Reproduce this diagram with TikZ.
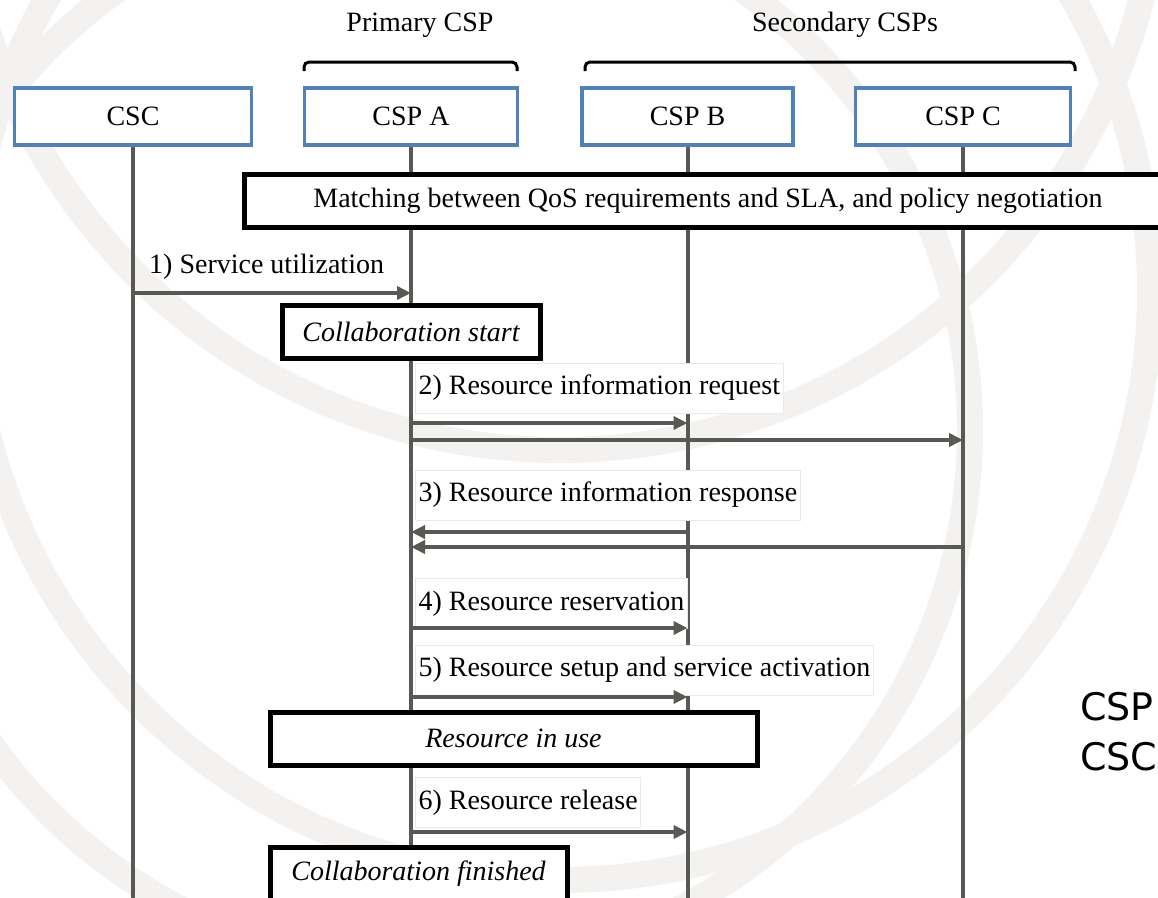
\documentclass[tikz,border=0pt]{standalone}
\usepackage{fontspec}
\setmainfont{Liberation Serif}
\newfontfamily\sidefont{DejaVu Sans}
\usetikzlibrary{arrows.meta}
\definecolor{boxblue}{RGB}{79,129,189}
\definecolor{lifegray}{RGB}{88,88,84}
\definecolor{wm}{RGB}{244,242,240}
\definecolor{lblborder}{RGB}{234,234,234}
\tikzset{
  actor/.style={draw=boxblue, line width=3.5pt, fill=white, minimum height=57pt, inner sep=0pt, font=\fontsize{28}{32}\selectfont},
  phase/.style={draw=black, line width=5pt, fill=white, minimum height=53pt, inner sep=0pt, font=\fontsize{28}{32}\selectfont\itshape},
  lifeline/.style={draw=lifegray, line width=4pt},
  msg/.style={draw=lifegray, line width=4pt, -{Triangle[length=14pt,width=13pt]}},
  lbl/.style={fill=white, draw=lblborder, line width=1pt, anchor=west, minimum height=50pt, inner xsep=3pt, inner ysep=0pt, font=\fontsize{28}{32}\selectfont},
  plain/.style={inner sep=0pt, font=\fontsize{28}{32}\selectfont},
  brace/.style={draw=black, line width=3pt, rounded corners=5pt},
  watermark/.style={draw=wm, line width=26pt}
}
\begin{document}
\begin{tikzpicture}[x=1pt,y=-1pt]
\useasboundingbox (0,0) rectangle (1158,897);
\clip (0,0) rectangle (1158,897);
\fill[white] (0,0) rectangle (1158,897);
% faint watermark
\draw[watermark] (430,430) circle[radius=540];
\draw[watermark] (560,-150) circle[radius=600];
\draw[watermark] (560,290) circle[radius=590];
% group labels and braces
\node[plain] (prim) at (420,25) {Primary CSP};
\node[plain] (sec) at (845,25) {Secondary CSPs};
\coordinate (pb1) at (304,71);
\coordinate (pb2) at (517,71);
\coordinate (sb1) at (585,71);
\coordinate (sb2) at (1075,71);
\draw[brace] (pb1) -- (pb1 |- 0,62) -- (pb2 |- 0,62) -- (pb2);
\draw[brace] (sb1) -- (sb1 |- 0,62) -- (sb2 |- 0,62) -- (sb2);
% actors
\node[actor, minimum width=237pt] (csc) at (133,116.5) {CSC};
\node[actor, minimum width=213pt] (cspa) at (411,116.5) {CSP A};
\node[actor, minimum width=211pt] (cspb) at (687.5,116.5) {CSP B};
\node[actor, minimum width=215pt] (cspc) at (963,116.5) {CSP C};
\coordinate (bot) at (0,905);
% lifelines
\draw[lifeline] (csc.south) -- (csc.south |- bot);
\draw[lifeline] (cspa.south) -- (cspa.south |- bot);
\draw[lifeline] (cspb.south) -- (cspb.south |- bot);
\draw[lifeline] (cspc.south) -- (cspc.south |- bot);
% matching box (cut by right edge)
\node[phase, font=\fontsize{28}{32}\selectfont, minimum width=940pt, anchor=west] (match) at (242,200.5) {};
\node[plain] (matchtxt) at (708,200.5) {Matching between QoS requirements and SLA, and policy negotiation};
% message y levels
\coordinate (y1) at (0,293);
\coordinate (y2a) at (0,423);
\coordinate (y2b) at (0,440);
\coordinate (y3a) at (0,532);
\coordinate (y3b) at (0,547);
\coordinate (y4) at (0,628);
\coordinate (y5) at (0,697);
\coordinate (y6) at (0,832);
% labels
\node[plain, anchor=west] (l1) at (149,267) {1) Service utilization};
\node[lbl] (l2) at (415,388) {2) Resource information request};
\node[lbl] (l3) at (415,495) {3) Resource information response};
\node[lbl] (l4) at (415,603.5) {4) Resource reservation};
\node[lbl] (l5) at (415,670) {5) Resource setup and service activation};
\node[lbl] (l6) at (415,802.5) {6) Resource release};
% messages
\draw[msg] (csc |- y1) -- (cspa |- y1);
\draw[msg] (cspa |- y2a) -- (cspb |- y2a);
\draw[msg] (cspa |- y2b) -- (cspc |- y2b);
\draw[msg] (cspb |- y3a) -- (cspa |- y3a);
\draw[msg] (cspc |- y3b) -- (cspa |- y3b);
\draw[msg] (cspa |- y4) -- (cspb |- y4);
\draw[msg] (cspa |- y5) -- (cspb |- y5);
\draw[msg] (cspa |- y6) -- (cspb |- y6);
% phases
\node[phase, minimum width=258pt] (cstart) at (411,331.5) {Collaboration start};
\node[phase, minimum width=487pt] (inuse) at (513.5,738.5) {Resource in use};
\node[phase, minimum width=297pt, text depth=6pt] (cfin) at (418.5,873.5) {Collaboration finished};
% side text cut by the right edge
\node[inner sep=0pt, anchor=west, font=\sidefont\fontsize{38}{42}\selectfont] (side1) at (1080,707) {CSP};
\node[inner sep=0pt, anchor=west, font=\sidefont\fontsize{38}{42}\selectfont] (side2) at (1080,757) {CSC};
\end{tikzpicture}
\end{document}
